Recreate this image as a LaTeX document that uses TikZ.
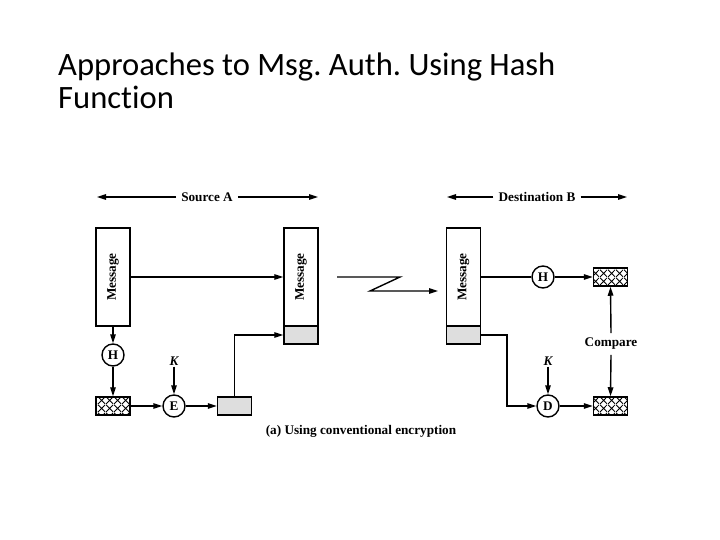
\documentclass[tikz,border=0pt]{standalone}
\usepackage{fontspec}
\usepackage{graphicx}
\setmainfont{Liberation Serif}
\newfontfamily\titlefont[Ligatures=NoCommon]{Carlito}
\usetikzlibrary{arrows.meta,patterns.meta}
\tikzdeclarepattern{
  name=bigx,
  type=uncolored,
  bounding box={(0pt,0pt) and (7.5pt,7.5pt)},
  tile size={(7.5pt,7.5pt)},
  code={\draw[line width=0.9pt] (0pt,0pt) -- (7.5pt,7.5pt) (0pt,7.5pt) -- (7.5pt,0pt);}
}
\begin{document}
\begin{tikzpicture}[x=1pt,y=-1pt,
  lbl/.style={font=\bfseries\fontsize{13.2}{15}\selectfont, inner sep=1pt},
  msgbox/.style={draw, line width=1.5pt, minimum width=34pt, minimum height=98pt, inner sep=0pt, font=\bfseries\fontsize{13.2}{15}\selectfont},
  graybox/.style={draw, line width=1.5pt, fill=black!13, minimum width=34pt, minimum height=18pt, inner sep=0pt},
  hashbox/.style={draw, line width=1.5pt, pattern=bigx, minimum width=34pt, minimum height=18pt, inner sep=0pt},
  op/.style={draw, circle, line width=1.4pt, minimum size=22pt, inner sep=0pt, font=\bfseries\fontsize{13.2}{15}\selectfont},
  conn/.style={line width=1.4pt, -{Triangle[length=9pt,width=5.5pt]}},
  plain/.style={line width=1.4pt},
  titletext/.style={font=\titlefont\fontsize{32.6}{33}\selectfont, inner sep=0pt, anchor=base west}
]
\frenchspacing
\useasboundingbox (0,0) rectangle (720,540);
\fill[white] (0,0) rectangle (720,540);

% title
\node[titletext] (t1) at (58,76) {Approaches to Msg. Auth. Using Hash};
\node[titletext] (t2) at (58,109) {Function};

% Source A
\node[lbl, inner xsep=5pt] (srcA) at (207,197) {Source A};
\coordinate (srcL) at (97,197);
\coordinate (srcR) at (318,197);
\draw[conn] (srcA.west) -- (srcL);
\draw[conn] (srcA.east) -- (srcR);

% Destination B
\node[lbl, inner xsep=5pt] (dstB) at (537,197) {Destination B};
\coordinate (dstL) at (447,197);
\coordinate (dstR) at (627,197);
\draw[conn] (dstB.west) -- (dstL);
\draw[conn] (dstB.east) -- (dstR);

% Source side
\node[msgbox] (msgA) at (113,277) {\rotatebox{90}{Message}};
\node[msgbox] (msgA2) at (301,277) {\rotatebox{90}{Message}};
\node[graybox] (grayA2) at (301,335) {};
\node[op] (HA) at (113,355) {H};
\node[hashbox] (hashA) at (113,406) {};
\node[op] (E) at (174,406) {E};
\node[lbl, font=\bfseries\itshape\fontsize{13.2}{15}\selectfont] (KA) at (174,361) {K};
\node[graybox] (encA) at (234.5,406) {};

\draw[conn] (msgA.east) -- (msgA2.west);
\draw[conn] (msgA.south) -- (HA);
\draw[conn] (HA) -- (hashA);
\draw[conn] (hashA) -- (E);
\draw[conn] (KA) -- (E);
\draw[conn] (E) -- (encA);
\draw[conn] (encA.north) |- (grayA2.west);

% channel
\coordinate (z0) at (337,277);
\coordinate (z1) at (400,277);
\coordinate (z2) at (370,291);
\coordinate (z3) at (438,291);
\draw[conn, line join=miter] (z0) -- (z1) -- (z2) -- (z3);

% Destination side
\node[msgbox] (msgB) at (463.5,277) {\rotatebox{90}{Message}};
\node[graybox] (grayB) at (463.5,335) {};
\node[op] (HB) at (543,277) {H};
\node[hashbox] (hashB1) at (610.5,277) {};
\node[hashbox] (hashB2) at (610.5,406) {};
\node[op] (D) at (548,406) {D};
\node[lbl, font=\bfseries\itshape\fontsize{13.2}{15}\selectfont] (KB) at (548,361) {K};
\node[lbl, inner ysep=5pt] (cmp) at (611,344) {Compare};
\coordinate (bend) at (507,335);

\draw[plain] (msgB.east) -- (HB);
\draw[conn] (HB) -- (hashB1);
\draw[conn] (KB) -- (D);
\draw[conn] (D) -- (hashB2);
\draw[conn] (grayB.east) -- (bend) |- (D);
\draw[conn] (cmp.north) -- (hashB1.south);
\draw[conn] (cmp.south) -- (hashB2.north);

% caption
\node[lbl] (cap) at (361,431) {(a) Using conventional encryption};
\end{tikzpicture}
\end{document}
